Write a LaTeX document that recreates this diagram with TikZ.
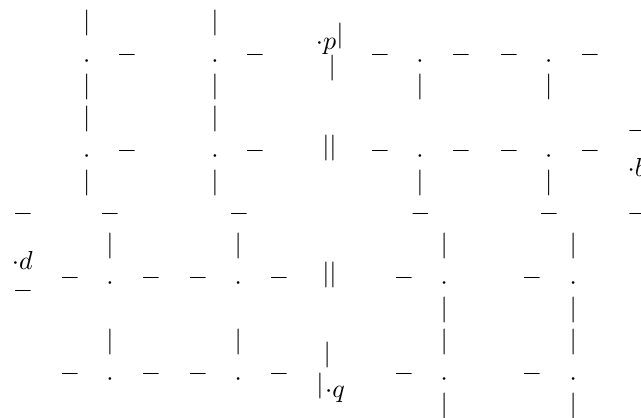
\documentclass[tikz,border=0pt]{standalone}
\begin{document}
\begin{tikzpicture}[x=0.3846pt, y=-0.3846pt,
  sym/.style={inner sep=0pt, text height=7.5pt, text depth=2.5pt},
  lbl/.style={inner sep=0pt, anchor=base west}]
\useasboundingbox (0,0) rectangle (641,418);
% labels
\node[lbl] (lp) at (315.4,49.2) {$\cdot p$};
\node[lbl] (lb) at (627.1,176.5) {$\cdot b$};
\node[lbl] (ld) at (11.4,269.2) {$\cdot d$};
\node[lbl] (lq) at (324.7,397.2) {$\cdot q$};
% upper left
\node[sym] (ulv1) at (86.7,23) {$|$};
\node[sym] (ulv2) at (215,23) {$|$};
\node[sym] (ula1) at (86.7,60.7) {$\cdot$};
\node[sym] (ula2) at (215,60.7) {$\cdot$};
\node[sym] (ulh1) at (127,54.7) {$-$};
\node[sym] (ulh2) at (255,54.7) {$-$};
\node[sym] (ulv3) at (86.7,87) {$|$};
\node[sym] (ulv4) at (215,87) {$|$};
\node[sym] (ulv5) at (86.7,119) {$|$};
\node[sym] (ulv6) at (215,119) {$|$};
\node[sym] (ulb1) at (86.7,156) {$\cdot$};
\node[sym] (ulb2) at (215,156) {$\cdot$};
\node[sym] (ulh3) at (127,151) {$-$};
\node[sym] (ulh4) at (255,151) {$-$};
\node[sym] (ulv7) at (86.7,183) {$|$};
\node[sym] (ulv8) at (215,183) {$|$};
% upper right
\node[sym] (urh1) at (380,54.7) {$-$};
\node[sym] (ura1) at (420,60.7) {$\cdot$};
\node[sym] (urh2) at (461,54.7) {$-$};
\node[sym] (urh3) at (509,54.7) {$-$};
\node[sym] (ura2) at (548.7,60.7) {$\cdot$};
\node[sym] (urh4) at (590,54.7) {$-$};
\node[sym] (urv1) at (420,87) {$|$};
\node[sym] (urv2) at (548.7,87) {$|$};
\node[sym] (urh5) at (380,151) {$-$};
\node[sym] (urb1) at (420,156) {$\cdot$};
\node[sym] (urh6) at (461,151) {$-$};
\node[sym] (urh7) at (509,151) {$-$};
\node[sym] (urb2) at (548.7,156) {$\cdot$};
\node[sym] (urh8) at (590,151) {$-$};
\node[sym] (urv3) at (420,183) {$|$};
\node[sym] (urv4) at (548.7,183) {$|$};
\node[sym] (rh1) at (637.3,130.7) {$-$};
% middle row
\node[sym] (mh1) at (23,214) {$-$};
\node[sym] (mh2) at (110,214) {$-$};
\node[sym] (mh3) at (239,214) {$-$};
\node[sym] (mh4) at (420.5,214) {$-$};
\node[sym] (mh5) at (549,214) {$-$};
\node[sym] (mh6) at (637.3,214) {$-$};
\node[sym] (lh1) at (23,290.7) {$-$};
% centre column
\node[sym] (cv1) at (340,36.3) {$|$};
\node[sym] (cv2) at (332.3,68) {$|$};
\node[sym] (cv3) at (329.5,148.3) {$||$};
\node[sym] (cv4) at (329.5,275.5) {$||$};
\node[sym] (cv5) at (327.3,355) {$|$};
\node[sym] (cv6) at (320,386) {$|$};
% lower left
\node[sym] (llv1) at (110,246) {$|$};
\node[sym] (llv2) at (238.3,246) {$|$};
\node[sym] (llh1) at (70,278.3) {$-$};
\node[sym] (lla1) at (110,283.3) {$\cdot$};
\node[sym] (llh2) at (151,278.3) {$-$};
\node[sym] (llh3) at (198,278.3) {$-$};
\node[sym] (lla2) at (238.3,283.3) {$\cdot$};
\node[sym] (llh4) at (279,278.3) {$-$};
\node[sym] (llv3) at (110,342) {$|$};
\node[sym] (llv4) at (238.3,342) {$|$};
\node[sym] (llh5) at (70,373.7) {$-$};
\node[sym] (llb1) at (110,379.3) {$\cdot$};
\node[sym] (llh6) at (151,373.7) {$-$};
\node[sym] (llh7) at (198,373.7) {$-$};
\node[sym] (llb2) at (238.3,379.3) {$\cdot$};
\node[sym] (llh8) at (279,373.7) {$-$};
% lower right
\node[sym] (lrv1) at (444.3,246) {$|$};
\node[sym] (lrv2) at (573.3,246) {$|$};
\node[sym] (lrh1) at (404,278.3) {$-$};
\node[sym] (lra1) at (444.3,283.3) {$\cdot$};
\node[sym] (lrh2) at (532,278.3) {$-$};
\node[sym] (lra2) at (573.3,283.3) {$\cdot$};
\node[sym] (lrv3) at (444.3,310) {$|$};
\node[sym] (lrv4) at (573.3,310) {$|$};
\node[sym] (lrv5) at (444.3,342) {$|$};
\node[sym] (lrv6) at (573.3,342) {$|$};
\node[sym] (lrh3) at (404,373.7) {$-$};
\node[sym] (lrb1) at (444.3,379.3) {$\cdot$};
\node[sym] (lrh4) at (532,373.7) {$-$};
\node[sym] (lrb2) at (573.3,379.3) {$\cdot$};
\node[sym] (lrv7) at (444.3,406) {$|$};
\node[sym] (lrv8) at (573.3,406) {$|$};
\end{tikzpicture}
\end{document}
